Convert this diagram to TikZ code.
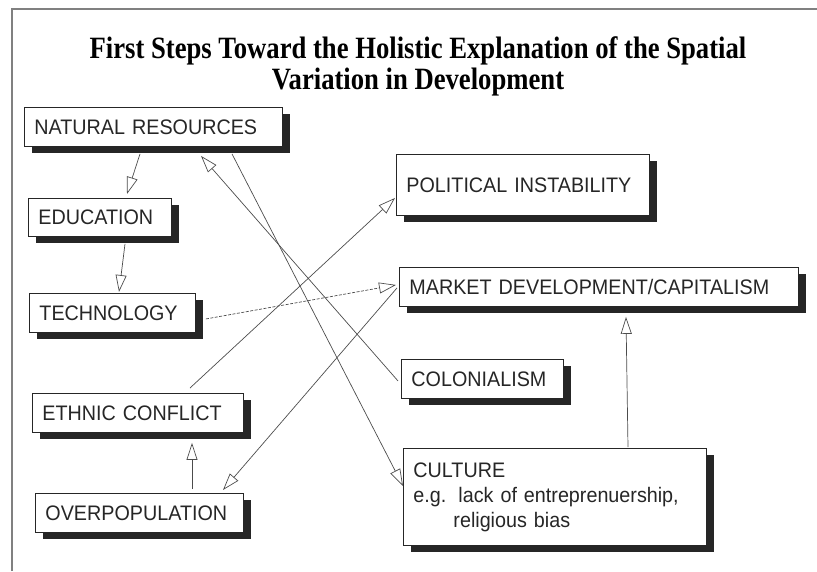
\documentclass[tikz,border=0pt]{standalone}
\usepackage{fontspec}
\setsansfont[FakeStretch=0.94]{Liberation Sans}
\newfontfamily\titlefont[FakeStretch=0.86]{Liberation Serif}
\usetikzlibrary{arrows.meta,shadows}

\tikzset{
  factor/.style={rectangle, draw=black!85, line width=0.9pt, fill=white,
    drop shadow={opacity=1, fill=black!85, shadow xshift=8pt, shadow yshift=-7pt},
    anchor=north west, inner xsep=10pt, inner ysep=0pt, align=left, text=black!85,
    font=\sffamily\fontsize{21}{25}\selectfont},
  link/.style={draw=black!70, line width=0.7pt,
    -{Triangle[open, length=17pt, width=11pt, line width=0.7pt]}}
}

\begin{document}
\begin{tikzpicture}[x=1pt, y=-1pt]
    \useasboundingbox (0,0) rectangle (817,571);
    \draw[black!50, line width=1.2pt] (12,571) -- (12,9) -- (817,9);

    \node[font=\titlefont\bfseries\fontsize{31}{31}\selectfont, align=center, inner sep=0pt]
        (title) at (418,66)
        {First Steps Toward the Holistic Explanation of the Spatial\\
         Variation in Development};

    % left column
    \node[factor, text width=238pt, minimum height=39pt] (nat) at (24,107) {NATURAL RESOURCES};
    \node[factor, text width=123pt, minimum height=38pt] (edu) at (28,198) {EDUCATION};
    \node[factor, text width=146pt, minimum height=39pt] (tech) at (29,293) {TECHNOLOGY};
    \node[factor, text width=191pt, minimum height=39pt] (eth) at (32,393) {ETHNIC CONFLICT};
    \node[factor, text width=188pt, minimum height=39pt] (ovp) at (35,493) {OVERPOPULATION};

    % right column
    \node[factor, text width=233pt, minimum height=61pt] (pol) at (396,154) {POLITICAL INSTABILITY};
    \node[factor, text width=379pt, minimum height=39pt] (mkt) at (399,267) {MARKET DEVELOPMENT/CAPITALISM};
    \node[factor, text width=142pt, minimum height=39pt] (col) at (401,359) {COLONIALISM};
    \node[factor, text width=283pt, minimum height=97pt] (cul) at (403,448)
        {CULTURE\\
         \makebox[45pt][l]{e.g.}lack of entreprenuership,\\
         \hspace*{40pt}religious bias};

    \draw[link] ([xshift=116pt, yshift=-7pt]nat.south west) -- ([xshift=99pt, yshift=4pt]edu.north west);
    \draw[link] ([xshift=97pt, yshift=-7pt]edu.south west) -- ([xshift=90pt, yshift=1pt]tech.north west);
    \draw[link, dash pattern=on 3pt off 1.5pt] ([xshift=10pt, yshift=-6pt]tech.east) -- ([xshift=-3pt, yshift=2pt]mkt.west);
    \draw[link] ([xshift=158pt, yshift=5pt]eth.north west) -- ([xshift=-1pt, yshift=-13pt]pol.west);
    \draw[link] ([xshift=-2pt, yshift=-1pt]mkt.west) -- ([xshift=188pt, yshift=3pt]ovp.north west);
    \draw[link] ([xshift=208pt, yshift=-7pt]nat.south west) -- ([yshift=-38pt]cul.north west);
    \draw[link] ([xshift=-3pt, yshift=-2pt]col.west) -- ([xshift=177pt, yshift=-9pt]nat.south west);
    \draw[link] ([xshift=157pt, yshift=4pt]ovp.north west) -- ([xshift=160pt, yshift=-10pt]eth.south west);
    \draw[link] ([xshift=225pt, yshift=1pt]cul.north west) -- ([xshift=227pt, yshift=-10pt]mkt.south west);
\end{tikzpicture}
\end{document}
